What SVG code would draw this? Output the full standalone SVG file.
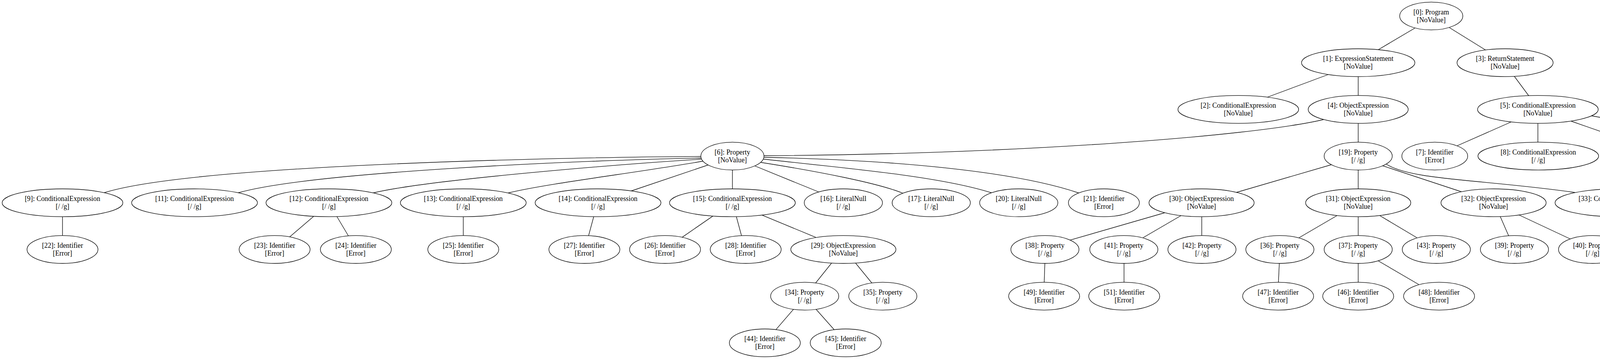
<svg xmlns="http://www.w3.org/2000/svg" width="4668" height="920" viewBox="0 0 4668 920">
<style>
.bg{fill:#ffffff}
.n ellipse{fill:#ffffff;stroke:#000000;stroke-width:1.33}
.n text{font-family:"Liberation Serif","Times New Roman",serif;font-size:17.8px;text-anchor:middle;fill:#000000}
#edges path,#edges line{fill:none;stroke:#000000;stroke-width:1.33}
</style>
<rect class="bg" x="0" y="0" width="4668" height="920"/>
<g id="edges">
<line x1="3622" y1="72" x2="3524" y2="130"/>
<line x1="3706" y1="68" x2="3806" y2="130"/>
<line x1="3403" y1="190" x2="3242" y2="250"/>
<line x1="3477" y1="190" x2="3477" y2="251"/>
<line x1="3874" y1="192" x2="3917" y2="250"/>
<path d="M1950,399 L1956,399 C2600,395 3200,350 3388,306.5 L3394,305"/>
<line x1="3477" y1="310" x2="3477" y2="370"/>
<line x1="3872" y1="311" x2="3727" y2="375"/>
<line x1="3937" y1="310" x2="3937" y2="371"/>
<line x1="4015" y1="308" x2="4195" y2="371"/>
<path d="M4069,296 L4075,297 C4200,320 4400,340 4485,376 L4490,378"/>
<path d="M1800,401 C1500,402 500,420 266,494 L260,496"/>
<path d="M1800,405 C1500,410 800,440 610,494 L604,495.6"/>
<path d="M1801,407.6 C1600,420 1100,460 957,494 L951,495.4"/>
<path d="M1805,412 C1650,440 1400,470 1303,494 L1297,495.5"/>
<line x1="1818" y1="421" x2="1611" y2="491"/>
<line x1="1875" y1="430" x2="1875" y2="490"/>
<line x1="1927" y1="423" x2="2101" y2="494"/>
<path d="M1940,415 C2100,440 2250,470 2311,495 L2316.5,497.3"/>
<path d="M1948,407 C2150,430 2400,450 2538,494 L2544,496"/>
<path d="M1949,403 C2300,410 2600,440 2760,494 L2765.7,496"/>
<line x1="160" y1="549" x2="160" y2="609"/>
<line x1="807" y1="551" x2="737" y2="611"/>
<line x1="859.5" y1="550" x2="894.6" y2="609"/>
<line x1="1186" y1="549" x2="1186" y2="609"/>
<line x1="1521.6" y1="549" x2="1505.4" y2="609"/>
<line x1="1829.4" y1="550.6" x2="1743" y2="610.4"/>
<line x1="1883.4" y1="549" x2="1899.6" y2="609"/>
<line x1="1944.5" y1="548.7" x2="2093.5" y2="610.3"/>
<line x1="2133" y1="669" x2="2085" y2="729"/>
<line x1="2186" y1="669" x2="2235" y2="729"/>
<line x1="2035" y1="788.4" x2="1983" y2="848.6"/>
<line x1="2085.5" y1="788.5" x2="2138.7" y2="848.5"/>
<line x1="3412" y1="421" x2="3162" y2="494"/>
<line x1="3477" y1="430" x2="3477" y2="490"/>
<line x1="3534" y1="423" x2="3746" y2="493"/>
<path d="M3542.4,417.8 L3548,420 C3610,462 3800,460 4030,493 L4036,494.5"/>
<line x1="2986" y1="544" x2="2734.7" y2="616.7"/>
<line x1="3026" y1="551" x2="2921.3" y2="612"/>
<line x1="3076.5" y1="550" x2="3076.5" y2="609"/>
<line x1="3427" y1="550" x2="3320.8" y2="612"/>
<line x1="3477" y1="550" x2="3477" y2="609"/>
<line x1="3528" y1="550" x2="3632" y2="612"/>
<line x1="3838.3" y1="549.5" x2="3864.4" y2="609.5"/>
<line x1="3883.6" y1="548.5" x2="4024.4" y2="614.5"/>
<line x1="2675" y1="669" x2="2673" y2="729"/>
<line x1="2877.5" y1="669" x2="2877.5" y2="729"/>
<line x1="3275.3" y1="669" x2="3272.5" y2="729"/>
<line x1="3477" y1="669" x2="3477" y2="729"/>
<line x1="3522.3" y1="665" x2="3637" y2="732"/>
</g>
<g id="n0" class="n"><ellipse cx="3664" cy="41" rx="80.8" ry="35.7"/><text x="3664" y="36.5">[0]: Program</text><text x="3664" y="56.5">[NoValue]</text></g>
<g id="n1" class="n"><ellipse cx="3477" cy="160.7" rx="145.1" ry="35.7"/><text x="3477" y="156.2">[1]: ExpressionStatement</text><text x="3477" y="176.2">[NoValue]</text></g>
<g id="n3" class="n"><ellipse cx="3853" cy="160.7" rx="123" ry="35.7"/><text x="3853" y="156.2">[3]: ReturnStatement</text><text x="3853" y="176.2">[NoValue]</text></g>
<g id="n2" class="n"><ellipse cx="3170" cy="280.4" rx="154.5" ry="35.7"/><text x="3170" y="275.9">[2]: ConditionalExpression</text><text x="3170" y="295.9">[NoValue]</text></g>
<g id="n4" class="n"><ellipse cx="3477" cy="280.4" rx="128" ry="35.7"/><text x="3477" y="275.9">[4]: ObjectExpression</text><text x="3477" y="295.9">[NoValue]</text></g>
<g id="n5" class="n"><ellipse cx="3937" cy="280.4" rx="154.5" ry="35.7"/><text x="3937" y="275.9">[5]: ConditionalExpression</text><text x="3937" y="295.9">[NoValue]</text></g>
<g id="n6" class="n"><ellipse cx="1875" cy="400" rx="80.8" ry="35.7"/><text x="1875" y="395.5">[6]: Property</text><text x="1875" y="415.5">[NoValue]</text></g>
<g id="n19" class="n"><ellipse cx="3477" cy="400" rx="87.2" ry="35.7"/><text x="3477" y="395.5">[19]: Property</text><text x="3477" y="415.5">[/ /g]</text></g>
<g id="n7" class="n"><ellipse cx="3673" cy="400" rx="84.3" ry="35.7"/><text x="3673" y="395.5">[7]: Identifier</text><text x="3673" y="415.5">[Error]</text></g>
<g id="n8" class="n"><ellipse cx="3938" cy="400" rx="154.5" ry="35.7"/><text x="3938" y="395.5">[8]: ConditionalExpression</text><text x="3938" y="415.5">[/ /g]</text></g>
<g id="n10" class="n"><ellipse cx="4275" cy="400" rx="161" ry="35.7"/><text x="4275" y="395.5">[10]: ConditionalExpression</text><text x="4275" y="415.5">[/ /g]</text></g>
<g id="n18" class="n"><ellipse cx="4561" cy="400" rx="100.1" ry="35.7"/><text x="4561" y="395.5">[18]: LiteralNull</text><text x="4561" y="415.5">[/ /g]</text></g>
<g id="n9" class="n"><ellipse cx="160" cy="519.7" rx="154.5" ry="35.7"/><text x="160" y="515.2">[9]: ConditionalExpression</text><text x="160" y="535.2">[/ /g]</text></g>
<g id="n11" class="n"><ellipse cx="498" cy="519.7" rx="161" ry="35.7"/><text x="498" y="515.2">[11]: ConditionalExpression</text><text x="498" y="535.2">[/ /g]</text></g>
<g id="n12" class="n"><ellipse cx="842" cy="519.7" rx="161" ry="35.7"/><text x="842" y="515.2">[12]: ConditionalExpression</text><text x="842" y="535.2">[/ /g]</text></g>
<g id="n13" class="n"><ellipse cx="1186" cy="519.7" rx="161" ry="35.7"/><text x="1186" y="515.2">[13]: ConditionalExpression</text><text x="1186" y="535.2">[/ /g]</text></g>
<g id="n14" class="n"><ellipse cx="1531" cy="519.7" rx="161" ry="35.7"/><text x="1531" y="515.2">[14]: ConditionalExpression</text><text x="1531" y="535.2">[/ /g]</text></g>
<g id="n15" class="n"><ellipse cx="1875" cy="519.7" rx="161" ry="35.7"/><text x="1875" y="515.2">[15]: ConditionalExpression</text><text x="1875" y="535.2">[/ /g]</text></g>
<g id="n16" class="n"><ellipse cx="2159" cy="519.7" rx="100.1" ry="35.7"/><text x="2159" y="515.2">[16]: LiteralNull</text><text x="2159" y="535.2">[/ /g]</text></g>
<g id="n17" class="n"><ellipse cx="2384" cy="519.7" rx="100.1" ry="35.7"/><text x="2384" y="515.2">[17]: LiteralNull</text><text x="2384" y="535.2">[/ /g]</text></g>
<g id="n20" class="n"><ellipse cx="2608" cy="519.7" rx="100.1" ry="35.7"/><text x="2608" y="515.2">[20]: LiteralNull</text><text x="2608" y="535.2">[/ /g]</text></g>
<g id="n21" class="n"><ellipse cx="2826" cy="519.7" rx="90.8" ry="35.7"/><text x="2826" y="515.2">[21]: Identifier</text><text x="2826" y="535.2">[Error]</text></g>
<g id="n30" class="n"><ellipse cx="3076" cy="519.7" rx="134.6" ry="35.7"/><text x="3076" y="515.2">[30]: ObjectExpression</text><text x="3076" y="535.2">[NoValue]</text></g>
<g id="n31" class="n"><ellipse cx="3477" cy="519.7" rx="134.6" ry="35.7"/><text x="3477" y="515.2">[31]: ObjectExpression</text><text x="3477" y="535.2">[NoValue]</text></g>
<g id="n32" class="n"><ellipse cx="3823.5" cy="519.7" rx="134.6" ry="35.7"/><text x="3823.5" y="515.2">[32]: ObjectExpression</text><text x="3823.5" y="535.2">[NoValue]</text></g>
<g id="n33" class="n"><ellipse cx="4142" cy="519.7" rx="161" ry="35.7"/><text x="4142" y="515.2">[33]: ConditionalExpression</text><text x="4142" y="535.2">[/ /g]</text></g>
<g id="n22" class="n"><ellipse cx="160" cy="639.3" rx="90.8" ry="35.7"/><text x="160" y="634.8">[22]: Identifier</text><text x="160" y="654.8">[Error]</text></g>
<g id="n23" class="n"><ellipse cx="703" cy="639.3" rx="90.8" ry="35.7"/><text x="703" y="634.8">[23]: Identifier</text><text x="703" y="654.8">[Error]</text></g>
<g id="n24" class="n"><ellipse cx="911" cy="639.3" rx="90.8" ry="35.7"/><text x="911" y="634.8">[24]: Identifier</text><text x="911" y="654.8">[Error]</text></g>
<g id="n25" class="n"><ellipse cx="1186" cy="639.3" rx="90.8" ry="35.7"/><text x="1186" y="634.8">[25]: Identifier</text><text x="1186" y="654.8">[Error]</text></g>
<g id="n27" class="n"><ellipse cx="1496" cy="639.3" rx="90.8" ry="35.7"/><text x="1496" y="634.8">[27]: Identifier</text><text x="1496" y="654.8">[Error]</text></g>
<g id="n26" class="n"><ellipse cx="1702.5" cy="639.3" rx="90.8" ry="35.7"/><text x="1702.5" y="634.8">[26]: Identifier</text><text x="1702.5" y="654.8">[Error]</text></g>
<g id="n28" class="n"><ellipse cx="1909" cy="639.3" rx="90.8" ry="35.7"/><text x="1909" y="634.8">[28]: Identifier</text><text x="1909" y="654.8">[Error]</text></g>
<g id="n29" class="n"><ellipse cx="2159" cy="639.3" rx="134.6" ry="35.7"/><text x="2159" y="634.8">[29]: ObjectExpression</text><text x="2159" y="654.8">[NoValue]</text></g>
<g id="n38" class="n"><ellipse cx="2675" cy="639.3" rx="87.2" ry="35.7"/><text x="2675" y="634.8">[38]: Property</text><text x="2675" y="654.8">[/ /g]</text></g>
<g id="n41" class="n"><ellipse cx="2877" cy="639.3" rx="87.2" ry="35.7"/><text x="2877" y="634.8">[41]: Property</text><text x="2877" y="654.8">[/ /g]</text></g>
<g id="n42" class="n"><ellipse cx="3077" cy="639.3" rx="87.2" ry="35.7"/><text x="3077" y="634.8">[42]: Property</text><text x="3077" y="654.8">[/ /g]</text></g>
<g id="n36" class="n"><ellipse cx="3276.5" cy="639.3" rx="87.2" ry="35.7"/><text x="3276.5" y="634.8">[36]: Property</text><text x="3276.5" y="654.8">[/ /g]</text></g>
<g id="n37" class="n"><ellipse cx="3477" cy="639.3" rx="87.2" ry="35.7"/><text x="3477" y="634.8">[37]: Property</text><text x="3477" y="654.8">[/ /g]</text></g>
<g id="n43" class="n"><ellipse cx="3677" cy="639.3" rx="87.2" ry="35.7"/><text x="3677" y="634.8">[43]: Property</text><text x="3677" y="654.8">[/ /g]</text></g>
<g id="n39" class="n"><ellipse cx="3877" cy="639.3" rx="87.2" ry="35.7"/><text x="3877" y="634.8">[39]: Property</text><text x="3877" y="654.8">[/ /g]</text></g>
<g id="n40" class="n"><ellipse cx="4077" cy="639.3" rx="87.2" ry="35.7"/><text x="4077" y="634.8">[40]: Property</text><text x="4077" y="654.8">[/ /g]</text></g>
<g id="n34" class="n"><ellipse cx="2060" cy="759" rx="87.2" ry="35.7"/><text x="2060" y="754.5">[34]: Property</text><text x="2060" y="774.5">[/ /g]</text></g>
<g id="n35" class="n"><ellipse cx="2260" cy="759" rx="87.2" ry="35.7"/><text x="2260" y="754.5">[35]: Property</text><text x="2260" y="774.5">[/ /g]</text></g>
<g id="n49" class="n"><ellipse cx="2673" cy="759" rx="90.8" ry="35.7"/><text x="2673" y="754.5">[49]: Identifier</text><text x="2673" y="774.5">[Error]</text></g>
<g id="n51" class="n"><ellipse cx="2878" cy="759" rx="90.8" ry="35.7"/><text x="2878" y="754.5">[51]: Identifier</text><text x="2878" y="774.5">[Error]</text></g>
<g id="n47" class="n"><ellipse cx="3272" cy="759" rx="90.8" ry="35.7"/><text x="3272" y="754.5">[47]: Identifier</text><text x="3272" y="774.5">[Error]</text></g>
<g id="n46" class="n"><ellipse cx="3477" cy="759" rx="90.8" ry="35.7"/><text x="3477" y="754.5">[46]: Identifier</text><text x="3477" y="774.5">[Error]</text></g>
<g id="n48" class="n"><ellipse cx="3684" cy="759" rx="90.8" ry="35.7"/><text x="3684" y="754.5">[48]: Identifier</text><text x="3684" y="774.5">[Error]</text></g>
<g id="n44" class="n"><ellipse cx="1958" cy="878.7" rx="90.8" ry="35.7"/><text x="1958" y="874.2">[44]: Identifier</text><text x="1958" y="894.2">[Error]</text></g>
<g id="n45" class="n"><ellipse cx="2165" cy="878.7" rx="90.8" ry="35.7"/><text x="2165" y="874.2">[45]: Identifier</text><text x="2165" y="894.2">[Error]</text></g>
</svg>
